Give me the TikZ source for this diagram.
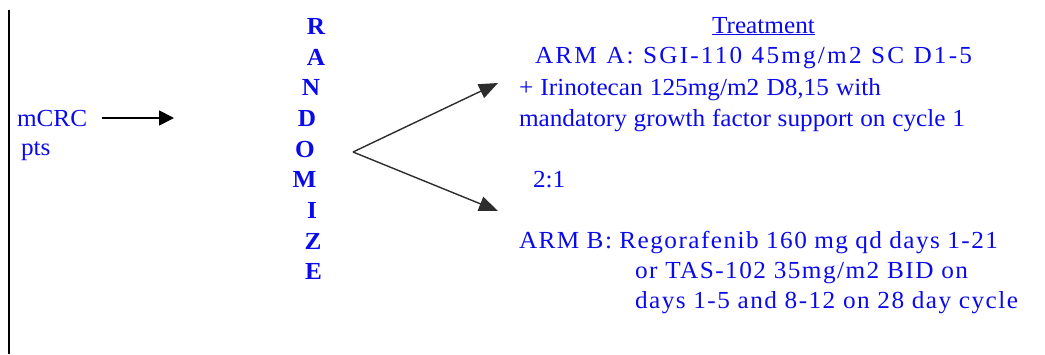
\documentclass[tikz,border=0pt]{standalone}
\usepackage{fontspec}
\setmainfont{Liberation Serif}[FakeStretch=1.03]
\usetikzlibrary{arrows.meta}
\definecolor{txtblue}{RGB}{10,10,235}
\definecolor{arrowgray}{RGB}{45,45,45}
\begin{document}
\begin{tikzpicture}[x=1pt,y=-1pt,
  txt/.style={inner sep=0pt, outer sep=0pt, text=txtblue, font=\fontsize{24.5}{28}\selectfont},
  letter/.style={txt, anchor=base, font=\fontsize{24.5}{28}\selectfont\bfseries},
  line/.style={txt, anchor=base west},
  spaced/.style={line, font=\fontsize{24.5}{28}\selectfont\addfontfeature{LetterSpace=6}},
  wide/.style={line, font=\fontsize{24.5}{28}\selectfont\addfontfeature{LetterSpace=9}},
  blackarrow/.style={line width=1.8pt, -{Triangle[length=15pt,width=15pt]}},
  forkarrow/.style={line width=1.4pt, draw=arrowgray, -{Triangle[length=19pt,width=15pt,fill=arrowgray]}}]
\useasboundingbox (0,0) rectangle (1045,354);
% left rule
\coordinate (ruletop) at (9,10);
\coordinate (rulebot) at (9,354);
\draw[line width=2pt] (ruletop) -- (rulebot);
% patients
\node[line] (mcrc) at (17,126) {mCRC};
\node[line] (pts) at (21,155) {pts};
\coordinate (inStart) at (102,118);
\coordinate (inEnd) at (174,118);
\draw[blackarrow] (inStart) -- (inEnd);
% RANDOMIZE
\node[letter] (lR) at (316,34) {R};
\node[letter] (lA) at (316,65) {A};
\node[letter] (lN) at (311,95) {N};
\node[letter] (lD) at (307,126) {D};
\node[letter] (lO) at (305,157) {O};
\node[letter] (lM) at (304.5,187) {M};
\node[letter] (lI) at (312,218) {I};
\node[letter] (lZ) at (313,249) {Z};
\node[letter] (lE) at (313.5,279) {E};
% fork
\coordinate (fork) at (353,152);
\coordinate (armAend) at (498,83);
\coordinate (armBend) at (498,211);
\draw[forkarrow] (fork) -- (armAend);
\draw[forkarrow] (fork) -- (armBend);
% treatment text
\node[txt, anchor=base] (treat) at (763.5,33) {\underline{Treatment}};
\node[wide] (armA) at (535,63) {\makebox[437pt][s]{ARM A: SGI-110 45mg/m2 SC D1-5}};
\node[line] (armA2) at (519,95) {\makebox[362pt][s]{+ Irinotecan 125mg/m2 D8,15 with}};
\node[line] (armA3) at (519,126) {\makebox[446pt][s]{mandatory growth factor support on cycle 1}};
\node[line] (ratio) at (533,187) {2:1};
\node[spaced] (armB) at (519,248) {\makebox[479pt][s]{ARM B: Regorafenib 160 mg qd days 1-21}};
\node[spaced] (armB2) at (635,278) {\makebox[333pt][s]{or TAS-102 35mg/m2 BID on}};
\node[spaced] (armB3) at (635,308) {\makebox[383pt][s]{days 1-5 and 8-12 on 28 day cycle}};
\end{tikzpicture}
\end{document}
